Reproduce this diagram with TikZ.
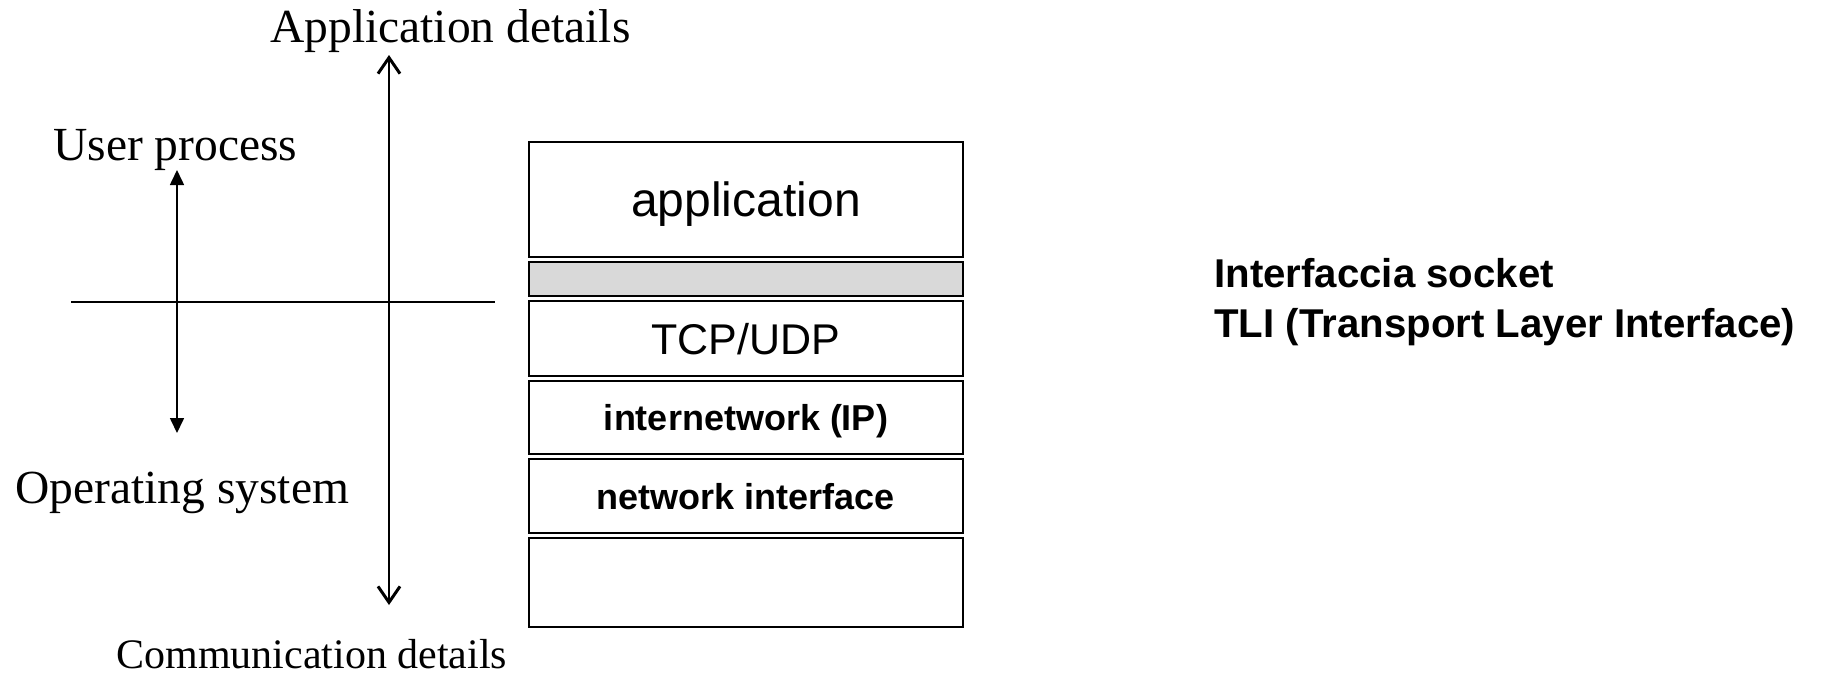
\documentclass[tikz,border=0pt]{standalone}
\usepackage{fontspec}
\setmainfont{Liberation Serif}
\setsansfont{Liberation Sans}
\usetikzlibrary{arrows.meta,positioning}
\definecolor{ifacegray}{RGB}{217,217,217}
\tikzstyle{layer} = [draw, rectangle, line width=1.2pt, minimum width=217pt, text centered, text depth=0pt, inner sep=0pt, outer sep=0pt]
\tikzstyle{ifacelayer} = [layer, fill=ifacegray]
\tikzstyle{seriftext} = [inner sep=0pt, anchor=base west, font=\fontsize{23.75}{28}\selectfont]
\tikzstyle{notetext} = [inner sep=0pt, anchor=base west, font=\sffamily\bfseries\fontsize{20.1}{24}\selectfont]
\tikzstyle{line} = [draw, line width=0.8pt, {Triangle[length=7.5pt,width=7pt]}-{Triangle[length=7.5pt,width=7pt]}]
\tikzstyle{bigline} = [draw, line width=1.1pt, {Straight Barb[length=8pt,width=11pt,line width=1.5pt]}-{Straight Barb[length=8pt,width=11pt,line width=1.5pt]}]

\begin{document}
\begin{tikzpicture}[x=0.5pt, y=-0.5pt]
        \useasboundingbox (0,0) rectangle (1821,677);
        % protocol stack
        \node[layer, minimum height=57.5pt, font=\sffamily\fontsize{24}{28}\selectfont] (app) at (746,199.5) {application};
        \node[ifacelayer, minimum height=17pt, below=2.5pt of app] (sock) {};
        \node[layer, minimum height=37.5pt, below=2.5pt of sock, font=\sffamily\fontsize{21.5}{26}\selectfont] (tcp) {TCP/UDP};
        \node[layer, minimum height=36.5pt, below=2.5pt of tcp, font=\sffamily\bfseries\fontsize{18}{22}\selectfont] (ip) {internetwork (IP)};
        \node[layer, minimum height=37pt, below=2.5pt of ip, font=\sffamily\bfseries\fontsize{18}{22}\selectfont] (netif) {network interface};
        \node[layer, minimum height=44.5pt, below=2.5pt of netif] (hw) {};
        % labels
        \node[seriftext] (appdet) at (270,42) {Application details};
        \node[seriftext] (user) at (53,160) {User process};
        \node[seriftext] (opsys) at (15,503) {Operating system};
        \node[seriftext, font=\fontsize{21}{25}\selectfont] (commdet) at (116,668) {Communication details};
        \node[notetext] (socket) at (1214,287) {Interfaccia socket};
        \node[notetext] (tli) at (1214,337) {TLI (Transport Layer Interface)};
        % arrows and divider
        \coordinate (adtip) at (389,55);
        \coordinate (cdtip) at (389,605);
        \coordinate (uptip) at (177,170);
        \coordinate (ostip) at (177,433);
        \coordinate (divl) at (71,302);
        \coordinate (divr) at (495,302);
        \path[bigline] (adtip) -- (cdtip);
        \path[line] (uptip) -- (ostip);
        \draw[line width=0.8pt] (divl) -- (divr);
    \end{tikzpicture}
\end{document}
